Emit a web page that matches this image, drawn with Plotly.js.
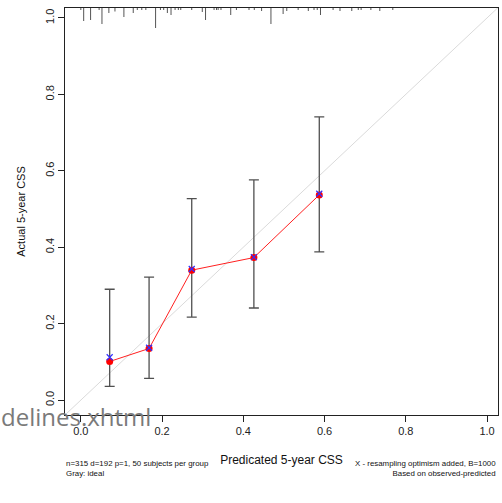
<!DOCTYPE html>
<html>
<head>
<meta charset="utf-8">
<script src="https://cdn.plot.ly/plotly-3.0.1.min.js"></script>
<style>html,body{margin:0;padding:0;background:#fff;}#chart{width:502px;height:503px;}</style>
</head>
<body>
<div id="chart"></div>
<script>
// Grouped calibration points (predicted vs observed)
var predicted   = [0.071, 0.168, 0.273, 0.426, 0.587];
var observed    = [0.101, 0.135, 0.340, 0.373, 0.537];
var corrected   = [0.112, 0.137, 0.343, 0.374, 0.540];
var ciLower     = [0.036, 0.057, 0.217, 0.241, 0.388];
var ciUpper     = [0.290, 0.322, 0.527, 0.576, 0.741];
var xTicks      = [0.0, 0.2, 0.4, 0.6, 0.8, 1.0];
var yTicks      = [0.0, 0.2, 0.4, 0.6, 0.8, 1.0];
var xTickText   = ["0.0", "0.2", "0.4", "0.6", "0.8", "1.0"];
var yTickText   = ["0.0", "0.2", "0.4", "0.6", "0.8", "1.0"];
// Distribution of predicted values (rug at top), relative frequency
var rugX = [0.000,0.007,0.024,0.045,0.052,0.069,0.084,0.106,0.129,0.139,0.150,0.160,0.184,0.196,0.204,0.213,0.222,0.232,0.240,0.246,
            0.273,0.299,0.307,0.328,0.334,0.338,0.345,0.369,0.383,0.414,0.427,0.445,0.468,0.498,0.507,0.535,0.560,
            0.574,0.582,0.590,0.621,0.638,0.667,0.683,0.690,0.714,0.736,0.768];
var rugFreq = [2,13,12,2,16,5,3.5,9,5,2,2,2,20,2,2,5,7,2,2,2,
               2,4,12,2,2,2,2,7,2,2,2,3,16,6,3,2,3,
               2,2,7,2,3,3,2,2,2,3,2];
var idealLine = [-0.1, 1.1];

var xRange = [-0.039, 1.027];
var yRange = [-0.039, 1.026];
var plotHpx = 407;
var pxPerUnitY = plotHpx / (yRange[1] - yRange[0]);

var rx = [], ry = [];
for (var i = 0; i < rugX.length; i++) {
  rx.push(rugX[i], rugX[i], null);
  ry.push(yRange[1], yRange[1] - rugFreq[i] / pxPerUnitY, null);
}

var errPlus = [], errMinus = [];
for (var j = 0; j < predicted.length; j++) {
  errPlus.push(ciUpper[j] - observed[j]);
  errMinus.push(observed[j] - ciLower[j]);
}

var traces = [
  {x: idealLine, y: idealLine, mode: 'lines', line: {color: '#dadada', width: 1}, hoverinfo: 'skip', showlegend: false},
  {x: rx, y: ry, mode: 'lines', line: {color: '#555555', width: 1}, hoverinfo: 'skip', showlegend: false, connectgaps: false},
  {x: predicted, y: observed, mode: 'lines+markers',
   line: {color: '#ff2020', width: 1},
   marker: {color: '#ff0000', size: 7, symbol: 'circle'},
   error_y: {type: 'data', symmetric: false, array: errPlus, arrayminus: errMinus, color: '#505050', thickness: 1.3, width: 5},
   showlegend: false},
  {x: predicted, y: corrected, mode: 'markers',
   marker: {symbol: 'x-thin', size: 6, line: {color: '#3030ff', width: 1.2}, color: '#3030ff'},
   showlegend: false}
];

var font = "'Liberation Sans', Arial, sans-serif";
var layout = {
  width: 502, height: 503,
  margin: {l: 65, r: 4, t: 8, b: 88},
  paper_bgcolor: '#ffffff', plot_bgcolor: '#ffffff',
  font: {family: font, size: 11, color: '#222222'},
  showlegend: false,
  xaxis: {
    range: xRange, showgrid: false, zeroline: false,
    showline: true, mirror: true, linecolor: '#222222', linewidth: 1,
    ticks: 'outside', ticklen: 6, tickcolor: '#222222',
    tickvals: xTicks, ticktext: xTickText,
    tickfont: {family: font, size: 11, color: '#222222'},
    title: {text: 'Predicated 5-year CSS', font: {family: font, size: 12, color: '#111111'}, standoff: 19}
  },
  yaxis: {
    range: yRange, showgrid: false, zeroline: false,
    showline: true, mirror: true, linecolor: '#222222', linewidth: 1,
    ticks: 'outside', ticklen: 6, tickcolor: '#222222',
    tickvals: yTicks, ticktext: yTickText, tickangle: -90,
    tickfont: {family: font, size: 11, color: '#222222'},
    title: {text: 'Actual 5-year CSS', font: {family: font, size: 11, color: '#111111'}, standoff: 15}
  },
  annotations: [
    {xref: 'paper', yref: 'paper', x: 0, y: 0, xshift: -1, yshift: -42, xanchor: 'left', yanchor: 'top', align: 'left',
     showarrow: false, text: 'n=315 d=192 p=1, 50 subjects per group<br>Gray: ideal', font: {family: font, size: 7.9, color: '#111111'}},
    {xref: 'paper', yref: 'paper', x: 1, y: 0, xshift: 0, yshift: -42, xanchor: 'right', yanchor: 'top', align: 'right',
     showarrow: false, text: 'X - resampling optimism added, B=1000<br>Based on observed-predicted', font: {family: font, size: 7.9, color: '#111111'}},
    {xref: 'paper', yref: 'paper', x: 0, y: 0, xshift: 88, yshift: 17, xanchor: 'right', yanchor: 'top',
     showarrow: false, text: 'delines.xhtml', font: {family: "'Open Sans', 'Noto Sans', sans-serif", size: 24, color: '#7a7a7a'}}
  ]
};

Plotly.newPlot('chart', traces, layout, {displayModeBar: false, staticPlot: true});
</script>
</body>
</html>
